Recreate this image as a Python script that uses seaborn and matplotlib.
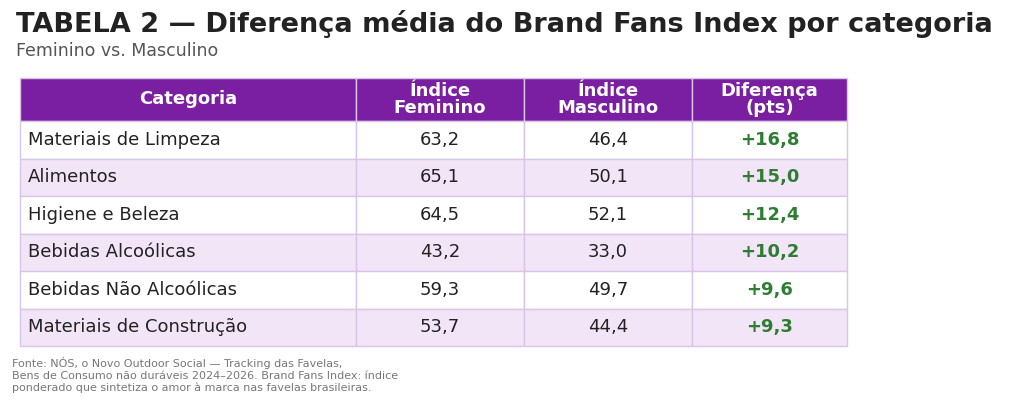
import matplotlib
matplotlib.use("Agg")
import matplotlib.pyplot as plt
from matplotlib.patches import Rectangle
import seaborn as sns

categorias = ["Materiais de Limpeza", "Alimentos", "Higiene e Beleza",
              "Bebidas Alcoólicas", "Bebidas Não Alcoólicas", "Materiais de Construção"]
feminino = [63.2, 65.1, 64.5, 43.2, 59.3, 53.7]
masculino = [46.4, 50.1, 52.1, 33.0, 49.7, 44.4]
diferenca = [16.8, 15.0, 12.4, 10.2, 9.6, 9.3]
cabecalho = ["Categoria", "Índice\nFeminino", "Índice\nMasculino", "Diferença\n(pts)"]

sns.set_theme(style="white")
plt.rcParams["font.family"] = ["DejaVu Sans"]

fig = plt.figure(figsize=(10.24, 4.08), dpi=100)
ax = fig.add_axes([0, 0, 1, 1])
ax.set_xlim(0, 1024)
ax.set_ylim(408, 0)
ax.axis("off")

def br(v):
    return f"{v:.1f}".replace(".", ",")

cols = [20, 356, 524, 692, 847]
top, head_h, row_h = 78, 43, 37.5
purple, light, border = "#7B1FA2", "#F3E5F8", "#D9C6E6"

for i in range(4):
    ax.add_patch(Rectangle((cols[i], top), cols[i+1]-cols[i], head_h,
                           facecolor=purple, edgecolor=border, lw=1))
    ax.text((cols[i]+cols[i+1])/2, top+head_h/2, cabecalho[i], ha="center", va="center",
            color="white", fontsize=13, fontweight="bold", linespacing=0.95)

for r, cat in enumerate(categorias):
    y = top + head_h + r*row_h
    fc = "white" if r % 2 == 0 else light
    for i in range(4):
        ax.add_patch(Rectangle((cols[i], y), cols[i+1]-cols[i], row_h,
                               facecolor=fc, edgecolor=border, lw=1))
    cy = y + row_h/2
    ax.text(cols[0]+8, cy, cat, ha="left", va="center", fontsize=13, color="#222222")
    ax.text((cols[1]+cols[2])/2, cy, br(feminino[r]), ha="center", va="center", fontsize=13, color="#222222")
    ax.text((cols[2]+cols[3])/2, cy, br(masculino[r]), ha="center", va="center", fontsize=13, color="#222222")
    ax.text((cols[3]+cols[4])/2, cy, "+" + br(diferenca[r]), ha="center", va="center",
            fontsize=13, color="#2E7D32", fontweight="bold")

ax.text(16, 24, "TABELA 2 — Diferença média do Brand Fans Index por categoria",
        ha="left", va="center", fontsize=19.5, fontweight="bold", color="#222222")
ax.text(16, 51, "Feminino vs. Masculino", ha="left", va="center", fontsize=12.5, color="#555555")
ax.text(12, 357, "Fonte: NÓS, o Novo Outdoor Social — Tracking das Favelas,\n"
        "Bens de Consumo não duráveis 2024–2026. Brand Fans Index: índice\n"
        "ponderado que sintetiza o amor à marca nas favelas brasileiras.",
        ha="left", va="top", fontsize=8, color="#777777", linespacing=1.2)

fig.savefig("out.png", dpi=100)
